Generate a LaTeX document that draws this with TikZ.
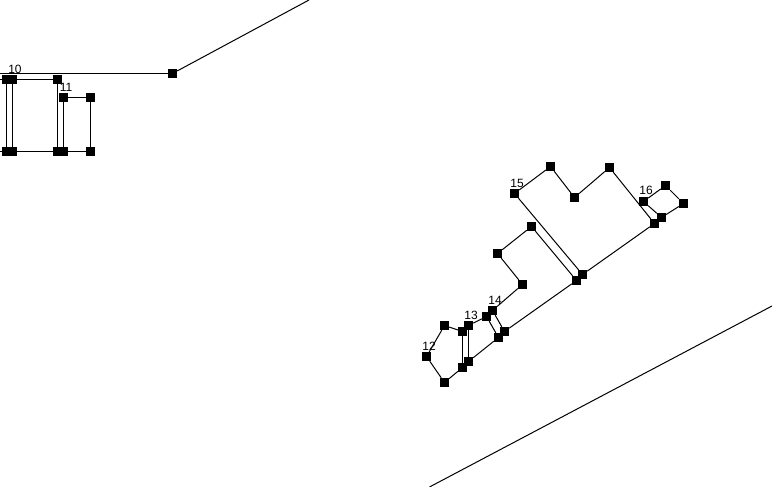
\documentclass[tikz,border=0pt]{standalone}
\usepackage{fontspec}
\setmainfont{Liberation Sans}
\tikzstyle{pt}=[rectangle,fill=black,draw=none,inner sep=0pt,minimum width=9pt,minimum height=9pt]
\tikzstyle{lbl}=[inner sep=0pt,font=\fontsize{12pt}{12pt}\selectfont]
\tikzstyle{ln}=[line width=1pt,black]
\begin{document}
\begin{tikzpicture}[x=1pt,y=-1pt]
            \useasboundingbox (0,0) rectangle (772,487);
            % top left
            \coordinate (a0) at (0, 73.5);
            \coordinate (a1) at (309, 0);
            \coordinate (a2) at (0, 79.5);
            \coordinate (a3) at (0, 151.5);
            \node [style=pt] (0) at (172.5, 73.5) {};
            \node [style=pt] (1) at (6.5, 79.5) {};
            \node [style=pt] (2) at (12.5, 79.5) {};
            \node [style=pt] (3) at (57.5, 79.5) {};
            \node [style=pt] (4) at (6.5, 151.5) {};
            \node [style=pt] (5) at (12.5, 151.5) {};
            \node [style=pt] (6) at (57.5, 151.5) {};
            \node [style=pt] (7) at (63.5, 151.5) {};
            \node [style=pt] (8) at (63.5, 97.5) {};
            \node [style=pt] (9) at (90.5, 97.5) {};
            \node [style=pt] (10) at (90.5, 151.5) {};
            \draw [style=ln] (a0) to (0);
            \draw [style=ln] (0) to (a1);
            \draw [style=ln] (a2) to (1);
            \draw [style=ln] (a3) to (4);
            \draw [style=ln] (1) to (4);
            \draw [style=ln] (2) to (3);
            \draw [style=ln] (2) to (5);
            \draw [style=ln] (3) to (6);
            \draw [style=ln] (5) to (6);
            \draw [style=ln] (7) to (8);
            \draw [style=ln] (8) to (9);
            \draw [style=ln] (9) to (10);
            \draw [style=ln] (10) to (7);
            % lower right
            \node [style=pt] (11) at (426.5, 356.5) {};
            \node [style=pt] (12) at (444.5, 325.5) {};
            \node [style=pt] (13) at (462.5, 331.5) {};
            \node [style=pt] (14) at (462.5, 367.5) {};
            \node [style=pt] (15) at (444.5, 382.5) {};
            \draw [style=ln] (11) to (12);
            \draw [style=ln] (12) to (13);
            \draw [style=ln] (13) to (14);
            \draw [style=ln] (14) to (15);
            \draw [style=ln] (15) to (11);
            \node [style=pt] (16) at (468.5, 325.5) {};
            \node [style=pt] (17) at (486.5, 316.5) {};
            \node [style=pt] (18) at (498.5, 337.5) {};
            \node [style=pt] (19) at (468.5, 361.5) {};
            \draw [style=ln] (16) to (17);
            \draw [style=ln] (17) to (18);
            \draw [style=ln] (18) to (19);
            \draw [style=ln] (19) to (16);
            \node [style=pt] (20) at (492.5, 310.5) {};
            \node [style=pt] (21) at (522.5, 284.5) {};
            \node [style=pt] (22) at (497.5, 253.5) {};
            \node [style=pt] (23) at (531.5, 226.5) {};
            \node [style=pt] (24) at (576.5, 280.5) {};
            \node [style=pt] (25) at (504.5, 331.5) {};
            \draw [style=ln] (20) to (21);
            \draw [style=ln] (21) to (22);
            \draw [style=ln] (22) to (23);
            \draw [style=ln] (23) to (24);
            \draw [style=ln] (24) to (25);
            \draw [style=ln] (25) to (20);
            \node [style=pt] (26) at (514.5, 193.5) {};
            \node [style=pt] (27) at (550.5, 166.5) {};
            \node [style=pt] (28) at (574.5, 197.5) {};
            \node [style=pt] (29) at (609.5, 167.5) {};
            \node [style=pt] (30) at (654.5, 223.5) {};
            \node [style=pt] (31) at (582.5, 274.5) {};
            \draw [style=ln] (26) to (27);
            \draw [style=ln] (27) to (28);
            \draw [style=ln] (28) to (29);
            \draw [style=ln] (29) to (30);
            \draw [style=ln] (30) to (31);
            \draw [style=ln] (31) to (26);
            \node [style=pt] (32) at (643.5, 201.5) {};
            \node [style=pt] (33) at (665.5, 185.5) {};
            \node [style=pt] (34) at (683.5, 203.5) {};
            \node [style=pt] (35) at (661.5, 217.5) {};
            \draw [style=ln] (32) to (33);
            \draw [style=ln] (33) to (34);
            \draw [style=ln] (34) to (35);
            \draw [style=ln] (35) to (32);
            % long line
            \coordinate (b0) at (429.5, 487);
            \coordinate (b1) at (772, 306);
            \draw [style=ln] (b0) to (b1);
            % labels
            \node [style=lbl] (l10) at (15, 69) {10};
            \node [style=lbl] (l11) at (66, 87.5) {11};
            \node [style=lbl] (l12) at (429, 346.5) {12};
            \node [style=lbl] (l13) at (471, 315) {13};
            \node [style=lbl] (l14) at (495, 300) {14};
            \node [style=lbl] (l15) at (517, 183) {15};
            \node [style=lbl] (l16) at (646, 190.5) {16};
    \end{tikzpicture}
\end{document}
